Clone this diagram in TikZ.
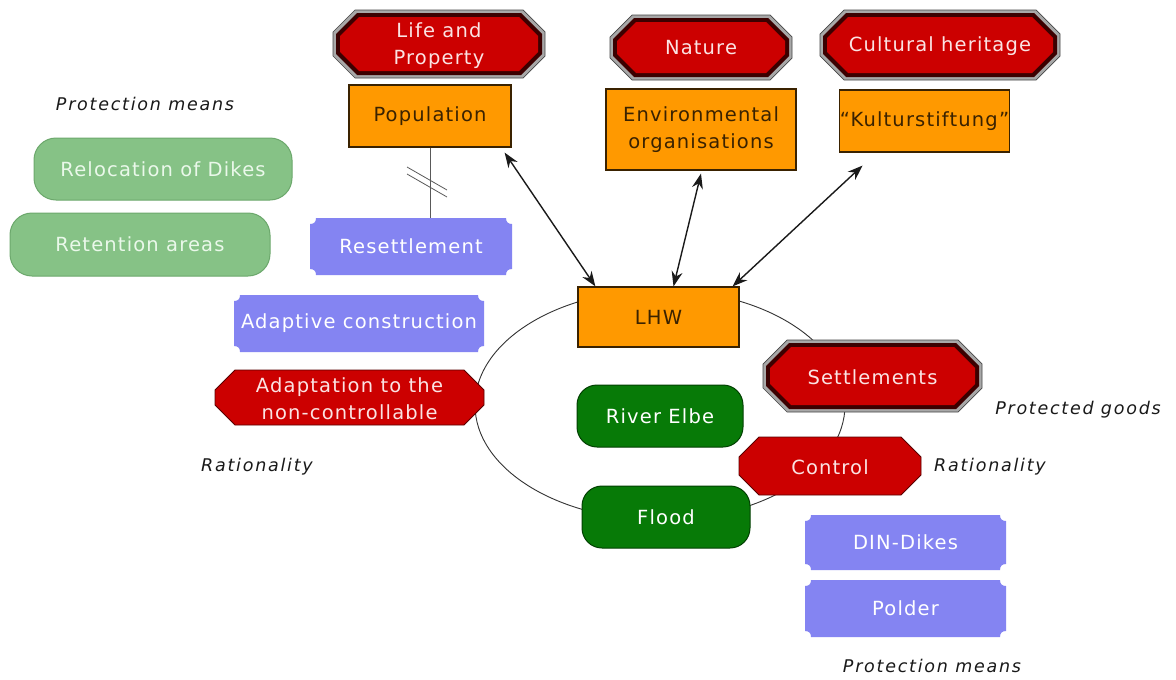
\documentclass[tikz,border=0pt]{standalone}
\usepackage{fontspec}
\setmainfont{DejaVu Sans}
\newfontfamily\boxfont{DejaVu Sans}[LetterSpace=6]
\newfontfamily\labfont{DejaVu Sans}[LetterSpace=10]
\usetikzlibrary{arrows.meta}
\definecolor{orangeF}{HTML}{FF9900}
\definecolor{orangeT}{HTML}{3A2200}
\definecolor{redF}{HTML}{CC0000}
\definecolor{redD}{HTML}{3C0000}
\definecolor{redT}{HTML}{FBE3E3}
\definecolor{grayB}{HTML}{A8A8A8}
\definecolor{lavF}{HTML}{8484F2}
\definecolor{lavB}{HTML}{7070D0}
\definecolor{lgF}{HTML}{86C286}
\definecolor{lgB}{HTML}{6CA86C}
\definecolor{lgT}{HTML}{EAF8EA}
\definecolor{dgF}{HTML}{077A07}
\definecolor{dgB}{HTML}{024002}
\definecolor{lineC}{HTML}{333333}
\definecolor{arrC}{HTML}{1A1A1A}
\newcommand\octfill[6]{\fill[#6] ({(#1)+(#5)},{#2}) -- ({(#3)-(#5)},{#2}) -- ({#3},{(#2)+(#5)}) -- ({#3},{(#4)-(#5)}) -- ({(#3)-(#5)},{#4}) -- ({(#1)+(#5)},{#4}) -- ({#1},{(#4)-(#5)}) -- ({#1},{(#2)+(#5)}) -- cycle;}
\newcommand\dbloct[5]{%
  \octfill{#1}{#2}{#3}{#4}{#5}{grayB, draw=gray!55!black, line width=0.7pt}%
  \octfill{#1+3}{#2+3}{#3-3}{#4-3}{#5-1}{redD}%
  \octfill{#1+7}{#2+7}{#3-7}{#4-7}{#5-3}{redF}}
\newcommand\notchfill[5]{\fill[#5] ({#1+6},{#2}) -- ({#3-6},{#2}) .. controls ({#3-6},{#2+4}) and ({#3-4},{#2+6}) .. ({#3},{#2+6}) -- ({#3},{#4-6}) .. controls ({#3-4},{#4-6}) and ({#3-6},{#4-4}) .. ({#3-6},{#4}) -- ({#1+6},{#4}) .. controls ({#1+6},{#4-4}) and ({#1+4},{#4-6}) .. ({#1},{#4-6}) -- ({#1},{#2+6}) .. controls ({#1+4},{#2+6}) and ({#1+6},{#2+4}) .. ({#1+6},{#2}) -- cycle;}
\tikzset{
  txt/.style={font=\boxfont\fontsize{19.5}{27}\selectfont, align=center, inner sep=0pt},
  orangebox/.style={txt, draw=orangeT, line width=1.2pt, fill=orangeF, text=orangeT},
  redtxt/.style={txt, text=redT},
  lavtxt/.style={txt, text=white},
  lgbox/.style={txt, draw=lgB, line width=1pt, fill=lgF, text=lgT, rounded corners=22pt},
  dgbox/.style={txt, draw=dgB, line width=1pt, fill=dgF, text=white, rounded corners=20pt},
  lab/.style={font=\labfont\itshape\fontsize{17.5}{20}\selectfont, text=black!90, inner sep=0pt},
  link/.style={draw=arrC, line width=1.4pt, {Stealth[length=15pt,width=11pt]}-{Stealth[length=15pt,width=11pt]}},
  ring/.style={draw=lineC, line width=0.9pt},
  hair/.style={draw=gray!70!black, line width=0.8pt}
}
\begin{document}
\begin{tikzpicture}[x=1pt,y=-1pt]
\useasboundingbox[fill=white] (0,0) rectangle (1176,680);

% ring
\draw[ring] (660,405) ellipse [x radius=185, y radius=115];

% top octagons
\dbloct{333}{10}{545}{78}{22}
\node[redtxt, minimum width=212pt, minimum height=68pt] (life) at (439,46) {Life and\\Property};
\dbloct{610}{15}{792}{80}{22}
\node[redtxt, minimum width=182pt, minimum height=65pt] (nature) at (701,47.5) {Nature};
\dbloct{820}{10}{1060}{80}{24}
\node[redtxt, minimum width=240pt, minimum height=70pt] (cult) at (940,46) {Cultural heritage};

% orange boxes
\node[orangebox, minimum width=162pt, minimum height=62pt] (pop) at (430,116) {Population};
\node[orangebox, minimum width=190pt, minimum height=81pt] (env) at (701,129.5) {Environmental\\organisations};
\node[orangebox, minimum width=163pt, minimum height=62pt] (kult) at (924.5,121) {“Kulturstiftung”};
\node[orangebox, minimum width=161pt, minimum height=60pt] (lhw) at (658.5,317) {LHW};

% light green protection means
\node[lab] (pm1) at (145,104) {Protection means};
\node[lgbox, minimum width=258pt, minimum height=62pt] (reloc) at (163,169) {Relocation of Dikes};
\node[lgbox, minimum width=260pt, minimum height=63pt] (reten) at (140,244.5) {Retention areas};

% lavender boxes
\notchfill{310}{218}{512}{275}{lavF}
\node[lavtxt, minimum width=202pt, minimum height=57pt] (res) at (411,246.5) {Resettlement};
\notchfill{234}{295}{484}{352}{lavF}
\node[lavtxt, minimum width=250pt, minimum height=57pt] (adcon) at (359,323.5) {Adaptive construction};
\notchfill{805}{515}{1006}{570}{lavF}
\node[lavtxt, minimum width=201pt, minimum height=55pt] (din) at (905.5,542.5) {DIN-Dikes};
\notchfill{805}{580}{1006}{637}{lavF}
\node[lavtxt, minimum width=201pt, minimum height=57pt] (polder) at (905.5,608.5) {Polder};
\node[lab] (pm2) at (932,666) {Protection means};

% adaptation / control
\octfill{215}{370}{484}{425}{20}{redF, draw=redD!80!redF, line width=0.8pt}
\node[redtxt, minimum width=269pt, minimum height=55pt] (adapt) at (349.5,399) {Adaptation to the\\non-controllable};
\node[lab] (rat1) at (257,467) {Rationality};

\dbloct{763}{340}{982}{412}{24}
\node[redtxt, minimum width=219pt, minimum height=72pt] (settle) at (872.5,377) {Settlements};
\node[lab] (pg) at (1078,410) {Protected goods};

\octfill{739}{437}{921}{495}{20}{redF, draw=redD!80!redF, line width=0.8pt}
\node[redtxt, minimum width=182pt, minimum height=58pt] (control) at (830,467) {Control};
\node[lab] (rat2) at (990,467) {Rationality};

% green nodes
\node[dgbox, minimum width=166pt, minimum height=62pt] (elbe) at (660,416) {River Elbe};
\node[dgbox, minimum width=168pt, minimum height=62pt] (flood) at (666,517) {Flood};

% population - resettlement with double slash
\draw[hair] (pop.south) -- (pop.south |- res.north);
\draw[hair] (407,167) -- (447,190);
\draw[hair] (407,174) -- (447,197);

% arrows
\draw[link] ([xshift=-7pt,yshift=-5pt]pop.south east) -- ([xshift=18pt]lhw.north west);
\draw[link] ([yshift=-3pt]env.south) -- ([xshift=15pt]lhw.north);
\draw[link] ([xshift=-62pt,yshift=-13pt]kult.south) -- ([xshift=-7pt]lhw.north east);
\end{tikzpicture}
\end{document}
